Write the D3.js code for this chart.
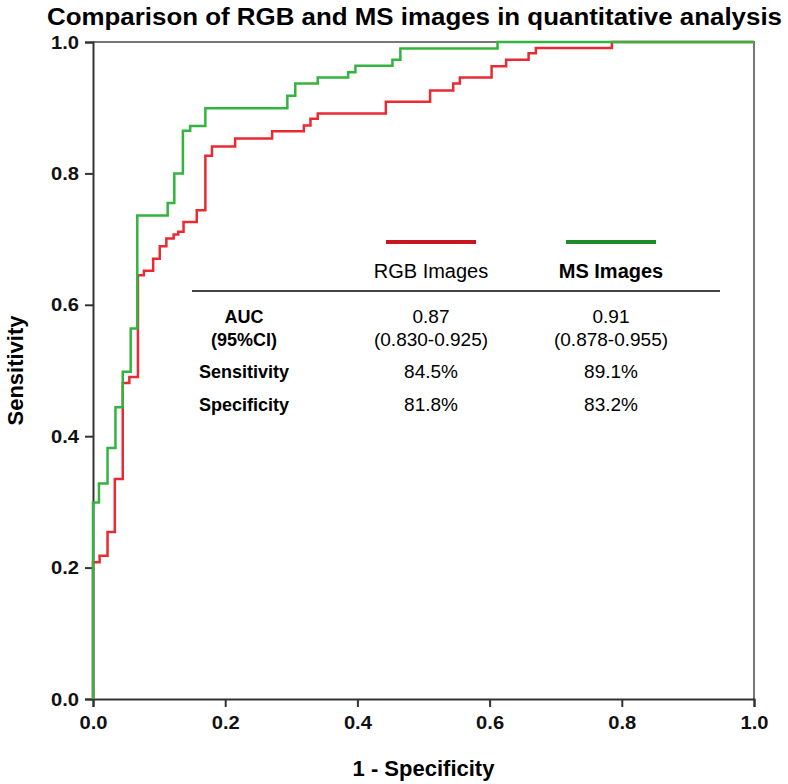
<!DOCTYPE html>
<html>
<head>
<meta charset="utf-8">
<script src="https://cdn.jsdelivr.net/npm/d3@7"></script>
<style>
  body { margin: 0; background: #fff; }
  svg { display: block; font-family: "Liberation Sans", Arial, sans-serif; }
  .axis path, .axis line { stroke: #333; stroke-width: 2; }
  .axis text { font-size: 19px; font-weight: bold; fill: #111; }
</style>
</head>
<body>
<div id="chart"></div>
<script>
// ROC points (1 - specificity, sensitivity)
const rgbFpr = [0, 0, 0.010, 0.022, 0.033, 0.045, 0.055, 0.068, 0.077, 0.091, 0.101, 0.111, 0.122, 0.129, 0.137, 0.157, 0.170, 0.180, 0.215, 0.271, 0.319, 0.329, 0.340, 0.443, 0.510, 0.545, 0.555, 0.603, 0.625, 0.659, 0.670, 0.785, 1.0];
const rgbTpr = [0, 0.208, 0.218, 0.254, 0.335, 0.481, 0.490, 0.645, 0.652, 0.670, 0.689, 0.701, 0.707, 0.711, 0.726, 0.744, 0.827, 0.841, 0.853, 0.864, 0.873, 0.883, 0.891, 0.909, 0.926, 0.937, 0.946, 0.963, 0.973, 0.983, 0.991, 1.0, 1.0];

const msFpr = [0, 0, 0.009, 0.022, 0.034, 0.045, 0.057, 0.067, 0.113, 0.123, 0.136, 0.147, 0.170, 0.294, 0.306, 0.340, 0.386, 0.397, 0.453, 0.465, 0.612, 1.0];
const msTpr = [0, 0.299, 0.328, 0.382, 0.444, 0.498, 0.564, 0.736, 0.755, 0.800, 0.865, 0.872, 0.899, 0.918, 0.937, 0.946, 0.954, 0.964, 0.973, 0.990, 1.0, 1.0];

const ticks = [0, 0.2, 0.4, 0.6, 0.8, 1.0];

// table
const seriesNames = ['RGB Images', 'MS Images'];
const rowLabels = ['AUC', '(95%CI)', 'Sensitivity', 'Specificity'];
const rgbValues = ['0.87', '(0.830-0.925)', '84.5%', '81.8%'];
const msValues = ['0.91', '(0.878-0.955)', '89.1%', '83.2%'];

const width = 788, height = 784;
const margin = {top: 42, right: 34, bottom: 85, left: 93};
const w = width - margin.left - margin.right;
const h = height - margin.top - margin.bottom;

const svg = d3.select('#chart').append('svg')
  .attr('width', width)
  .attr('height', height);

const x = d3.scaleLinear().domain([0, 1]).range([0, w]);
const y = d3.scaleLinear().domain([0, 1]).range([h, 0]);

const g = svg.append('g')
  .attr('transform', 'translate(' + margin.left + ',' + margin.top + ')');

// title
svg.append('text')
  .attr('x', 47).attr('y', 25)
  .attr('textLength', 735)
  .attr('lengthAdjust', 'spacingAndGlyphs')
  .style('font-size', '23px').style('font-weight', 'bold')
  .text('Comparison of RGB and MS images in quantitative analysis');

// top and right frame
g.append('path')
  .attr('d', 'M0,0H' + w + 'V' + h)
  .attr('fill', 'none')
  .attr('stroke', '#777')
  .attr('stroke-width', 2);

// axes
g.append('g').attr('class', 'axis axis--x')
  .attr('transform', 'translate(0,' + h + ')')
  .call(d3.axisBottom(x).tickValues(ticks).tickFormat(d3.format('.1f')).tickSizeOuter(0).tickSize(8).tickPadding(9));

g.append('g').attr('class', 'axis axis--y')
  .call(d3.axisLeft(y).tickValues(ticks).tickFormat(d3.format('.1f')).tickSizeOuter(0).tickSize(8).tickPadding(6));

g.selectAll('.axis text').attr('textLength', 28).attr('lengthAdjust', 'spacingAndGlyphs');

// axis titles
svg.append('text')
  .attr('x', margin.left + w / 2).attr('y', 776)
  .attr('text-anchor', 'middle')
  .style('font-size', '22px').style('font-weight', 'bold')
  .text('1 - Specificity');

svg.append('text')
  .attr('transform', 'translate(23,' + (margin.top + h / 2) + ') rotate(-90)')
  .attr('text-anchor', 'middle')
  .style('font-size', '22px').style('font-weight', 'bold')
  .text('Sensitivity');

// ROC curves
const line = d3.line()
  .x(d => x(d[0]))
  .y(d => y(d[1]))
  .curve(d3.curveStepAfter);

g.append('path')
  .datum(d3.zip(rgbFpr, rgbTpr))
  .attr('fill', 'none')
  .attr('stroke', '#ea2a33')
  .attr('stroke-width', 2.5)
  .attr('d', line);

g.append('path')
  .datum(d3.zip(msFpr, msTpr))
  .attr('fill', 'none')
  .attr('stroke', '#33b43f')
  .attr('stroke-width', 2.5)
  .attr('d', line);

// stats table inside the plot
const colX = [244, 431, 611];
const legendColors = ['#c8161f', '#1f8a2b'];

seriesNames.forEach((name, i) => {
  svg.append('line')
    .attr('x1', colX[i + 1] - 45).attr('x2', colX[i + 1] + 45)
    .attr('y1', 242).attr('y2', 242)
    .attr('stroke', legendColors[i])
    .attr('stroke-width', 4);
  svg.append('text')
    .attr('x', colX[i + 1]).attr('y', 278)
    .attr('text-anchor', 'middle')
    .style('font-size', '20px')
    .style('font-weight', i === 1 ? 'bold' : 'normal')
    .text(name);
});

svg.append('line')
  .attr('x1', 192).attr('x2', 720)
  .attr('y1', 291).attr('y2', 291)
  .attr('stroke', '#444').attr('stroke-width', 2);

const rowY = [323, 346, 378, 411];
rowLabels.forEach((lab, i) => {
  svg.append('text')
    .attr('x', colX[0]).attr('y', rowY[i])
    .attr('text-anchor', 'middle')
    .style('font-size', '18px').style('font-weight', 'bold')
    .text(lab);
  svg.append('text')
    .attr('x', colX[1]).attr('y', rowY[i])
    .attr('text-anchor', 'middle')
    .style('font-size', '19px')
    .text(rgbValues[i]);
  svg.append('text')
    .attr('x', colX[2]).attr('y', rowY[i])
    .attr('text-anchor', 'middle')
    .style('font-size', '19px')
    .text(msValues[i]);
});
</script>
</body>
</html>
